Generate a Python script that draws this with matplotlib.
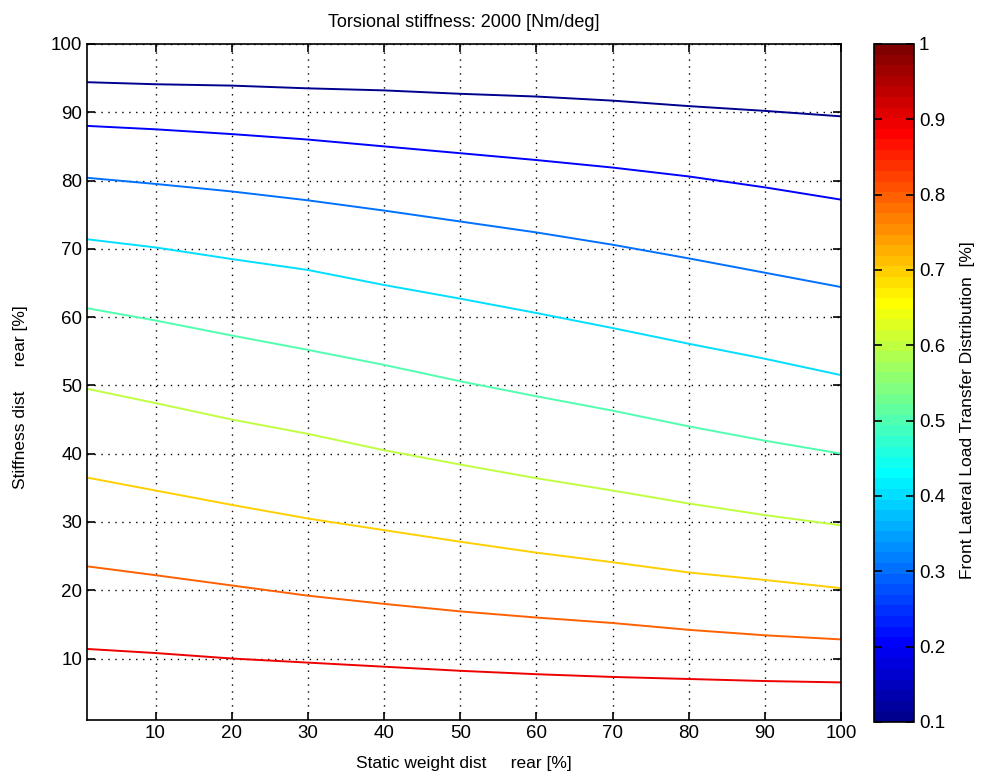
import matplotlib
matplotlib.use('Agg')
import matplotlib.pyplot as plt
import numpy as np
from matplotlib import cm, colors

plt.rcParams['font.family'] = ['Liberation Sans', 'DejaVu Sans']

# static weight dist rear [%]
weight_rear = [1, 10, 20, 30, 40, 50, 60, 70, 80, 90, 100]

# contour levels (front LLTD) and stiffness dist rear [%]
levels = [0.1, 0.2, 0.3, 0.4, 0.5, 0.6, 0.7, 0.8, 0.9]
lvl_01 = [94.4, 94.1, 93.9, 93.5, 93.2, 92.7, 92.3, 91.7, 90.9, 90.2, 89.4]
lvl_02 = [88.0, 87.5, 86.8, 86.0, 85.0, 84.0, 83.0, 81.9, 80.6, 79.0, 77.2]
lvl_03 = [80.4, 79.5, 78.4, 77.1, 75.6, 74.0, 72.4, 70.6, 68.6, 66.5, 64.4]
lvl_04 = [71.4, 70.2, 68.5, 66.9, 64.7, 62.7, 60.6, 58.4, 56.1, 53.9, 51.5]
lvl_05 = [61.3, 59.5, 57.3, 55.2, 53.0, 50.6, 48.4, 46.3, 44.0, 41.9, 40.0]
lvl_06 = [49.5, 47.4, 45.0, 42.9, 40.5, 38.4, 36.4, 34.6, 32.7, 31.0, 29.5]
lvl_07 = [36.5, 34.6, 32.5, 30.5, 28.8, 27.1, 25.5, 24.1, 22.6, 21.5, 20.3]
lvl_08 = [23.5, 22.2, 20.7, 19.2, 18.0, 16.9, 16.0, 15.2, 14.2, 13.4, 12.8]
lvl_09 = [11.4, 10.8, 10.0, 9.4, 8.8, 8.2, 7.7, 7.3, 7.0, 6.7, 6.5]
contours = [lvl_01, lvl_02, lvl_03, lvl_04, lvl_05, lvl_06, lvl_07, lvl_08, lvl_09]

cb_ticks = [0.1, 0.2, 0.3, 0.4, 0.5, 0.6, 0.7, 0.8, 0.9, 1.0]
cb_labels = ['0.1', '0.2', '0.3', '0.4', '0.5', '0.6', '0.7', '0.8', '0.9', '1']


def matlab_jet(m=64):
    # same construction as MATLAB's jet(m)
    n = int(np.ceil(m / 4))
    u = np.concatenate([np.arange(1, n + 1) / n, np.ones(n - 1), np.arange(n, 0, -1) / n])
    g = int(np.ceil(n / 2)) - (1 if m % 4 == 1 else 0) + np.arange(1, len(u) + 1)
    r = g + n
    b = g - n
    rgb = np.zeros((m, 3))
    rgb[r[r <= m] - 1, 0] = u[r <= m]
    rgb[g[g <= m] - 1, 1] = u[g <= m]
    rgb[b[b >= 1] - 1, 2] = u[b >= 1]
    return colors.ListedColormap(rgb)


cmap = matlab_jet(64)
norm = colors.Normalize(vmin=0.1, vmax=1.0)

fig = plt.figure(figsize=(9.81, 7.78), dpi=100)
ax = fig.add_axes([0.0887, 0.0746, 0.7686, 0.8689])
cax = fig.add_axes([0.891, 0.072, 0.0408, 0.8715])

for lev, ys in zip(levels, contours):
    ax.plot(weight_rear, ys, color=cmap(norm(lev)), lw=1.4)

ax.set_xlim(1, 100)
ax.set_ylim(1, 100)
ax.set_xticks(np.arange(10, 101, 10))
ax.set_yticks(np.arange(10, 101, 10))
ax.grid(True, color='black', linestyle=(0, (1, 4)), linewidth=1.0)
ax.tick_params(direction='in', top=True, right=True, length=6, width=1.2, labelsize=13.5)
for s in ax.spines.values():
    s.set_linewidth(1.2)

ax.set_title('Torsional stiffness: 2000 [Nm/deg]', fontsize=13, pad=12)
ax.set_xlabel('Static weight dist     rear [%]', fontsize=12.5, labelpad=10)
ax.set_ylabel('Stiffness dist     rear [%]', fontsize=12.5)
ax.yaxis.set_label_coords(-0.078, 0.478)

sm = cm.ScalarMappable(norm=norm, cmap=cmap)
cb = fig.colorbar(sm, cax=cax)
cb.set_ticks(cb_ticks)
cb.set_ticklabels(cb_labels)
cb.outline.set_linewidth(1.2)
cax.tick_params(direction='in', left=True, right=True, length=6, width=1.2, labelsize=13.5)
cb.set_label('Front Lateral Load Transfer Distribution  [%]', fontsize=12.5)
cax.yaxis.set_label_coords(2.15, 0.46)

fig.savefig('out.png', dpi=100)
